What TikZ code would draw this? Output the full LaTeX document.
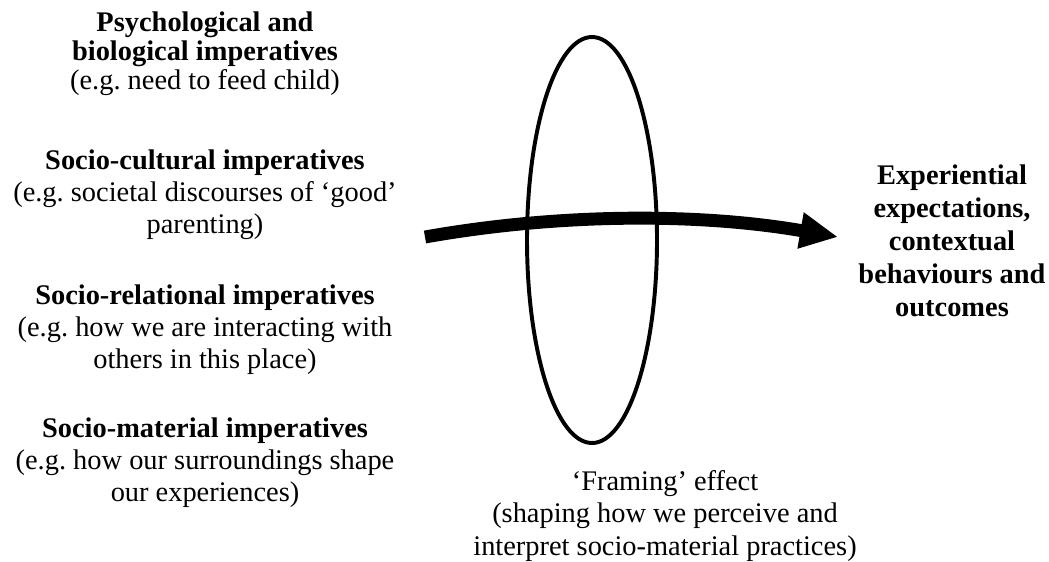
\documentclass[tikz,border=0pt]{standalone}
\usepackage{fontspec}
\setmainfont{Liberation Serif}
\usetikzlibrary{arrows.meta, positioning, shapes.geometric}

\begin{document}
\begin{tikzpicture}[x=0.025cm, y=-0.025cm, line width=2.8pt,
    txt/.style={align=center, inner sep=0pt, font=\fontsize{20.2}{22.8}\selectfont}]
    \useasboundingbox (0,0) rectangle (1049,561);
    % imperatives (left)
    \node[txt, font=\fontsize{20.2}{20.5}\selectfont] (psych) at (205,54)
      {\textbf{Psychological and}\\\textbf{biological imperatives}\\(e.g.\ need to feed child)};
    \node[txt] (cult) at (205,195)
      {\textbf{Socio-cultural imperatives}\\(e.g.\ societal discourses of `good'\\parenting)};
    \node[txt] (rel) at (205,330)
      {\textbf{Socio-relational imperatives}\\(e.g.\ how we are interacting with\\others in this place)};
    \node[txt] (mat) at (205,463)
      {\textbf{Socio-material imperatives}\\(e.g.\ how our surroundings shape\\our experiences)};
    % framing lens
    \node[ellipse, draw, minimum width=130*0.025cm, minimum height=406*0.025cm,
      inner sep=0pt] (frame) at (592,240) {};
    \node[txt] (effect) at (665,516)
      {`Framing' effect\\(shaping how we perceive and\\interpret socio-material practices)};
    % outcomes (right)
    \node[txt, font=\fontsize{20.2}{23.5}\selectfont\bfseries] (out) at (952,241)
      {Experiential\\expectations,\\contextual\\behaviours and\\outcomes};
    % main arrow
    \coordinate (src) at (425,237);
    \coordinate (tip) at (838,237);
    \draw[line width=9.2pt, -{Triangle[length=0.95cm, width=0.85cm]}]
      (src) .. controls (560,213) and (700,213) .. (tip);
  \end{tikzpicture}
\end{document}
